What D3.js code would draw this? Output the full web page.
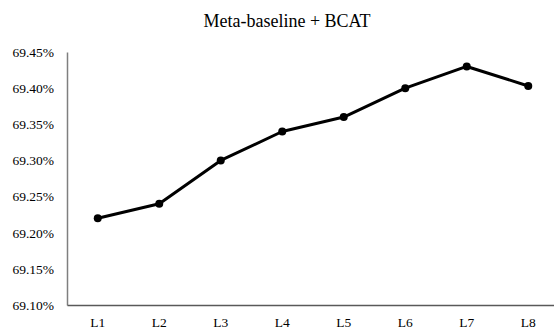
<html>
<head>
<style>
  body { margin: 0; background: white }
</style>
</head>
<body>
<script src="https://d3js.org/d3.v7.min.js"></script>
<script>

// data
var categories = ["L1", "L2", "L3", "L4", "L5", "L6", "L7", "L8"];
var values = [69.22, 69.24, 69.30, 69.34, 69.36, 69.40, 69.43, 69.403];
var yTicks = [69.10, 69.15, 69.20, 69.25, 69.30, 69.35, 69.40, 69.45];
var title = "Meta-baseline + BCAT";

var width = 554,
    height = 331,
    serif = "Liberation Serif";

var svg = d3.select("body").append("svg")
  .attr("width", width)
  .attr("height", height);

var x = d3.scaleBand()
  .domain(categories)
  .range([67, 559]);

var y = d3.scaleLinear()
  .domain([69.10, 69.45])
  .range([305, 52]);

// title
svg.append("text")
  .attr("x", 287)
  .attr("y", 27)
  .attr("text-anchor", "middle")
  .style("font-family", serif)
  .style("font-size", "18px")
  .text(title);

// y axis
var yAxis = svg.append("g")
  .attr("transform", "translate(67,0)")
  .call(d3.axisLeft(y).tickValues(yTicks).tickSize(0).tickPadding(13)
    .tickFormat(function(d) { return d.toFixed(2) + "%"; }));
yAxis.select(".domain").attr("stroke", "#7f7f7f").attr("stroke-width", 1.5);
yAxis.selectAll(".tick text")
  .style("font-family", serif)
  .style("font-size", "13.5px")
  .style("fill", "#000");

// x axis
var xAxis = svg.append("g")
  .attr("transform", "translate(0,305)")
  .call(d3.axisBottom(x).tickSize(0).tickPadding(12));
xAxis.select(".domain").attr("stroke", "#595959").attr("stroke-width", 1.5);
xAxis.selectAll(".tick text")
  .style("font-family", serif)
  .style("font-size", "13.5px")
  .style("fill", "#000");

var cx = function(d, i) { return x(categories[i]) + x.bandwidth() / 2; };

// line
var line = d3.line()
  .x(function(d, i) { return cx(d, i); })
  .y(function(d) { return y(d); });

svg.append("path")
  .datum(values)
  .attr("fill", "none")
  .attr("stroke", "#000")
  .attr("stroke-width", 3)
  .attr("stroke-linejoin", "round")
  .attr("d", line);

svg.selectAll("circle.pt")
  .data(values)
  .enter()
  .append("circle")
    .attr("class", "pt")
    .attr("cx", cx)
    .attr("cy", function(d) { return y(d); })
    .attr("r", 4)
    .attr("fill", "#000");

</script>
</body>
</html>
